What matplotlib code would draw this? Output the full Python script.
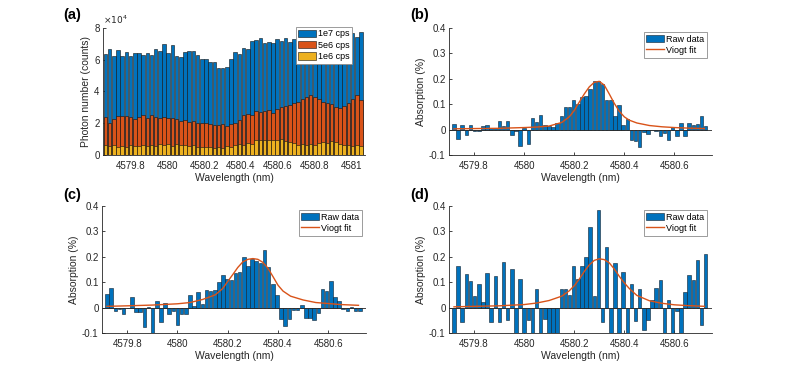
# photon counts and absorption spectra around 4580.3 nm, four panels

import numpy as np
import matplotlib
matplotlib.use('Agg')
import matplotlib.pyplot as plt
from matplotlib.patches import Patch
from matplotlib.lines import Line2D

plt.rcParams['font.family'] = ['Liberation Sans', 'DejaVu Sans']

BLUE = '#0072BD'
ORANGE = '#D95319'
YELLOW = '#EDB120'
AXC = '#262626'

# panel (a): photon counts, in units of 1e4
counts_1e7 = [6.37, 6.66, 6.24, 6.62, 6.24, 6.51, 6.26, 6.40, 6.40, 6.32,
              6.40, 6.28, 6.66, 6.57, 6.97, 6.45, 6.90, 6.26, 6.20, 6.50,
              6.53, 6.55, 6.30, 6.07, 6.03, 5.88, 5.88, 5.46, 5.46, 5.57,
              6.03, 6.50, 6.35, 6.75, 6.65, 7.20, 7.25, 7.40, 7.05, 7.10,
              7.05, 7.30, 7.15, 7.35, 7.10, 7.30, 7.00, 7.35, 6.95, 7.05,
              7.05, 6.85, 7.35, 6.90, 7.00, 7.30, 6.95, 7.05, 7.00, 7.70,
              7.45, 7.75]
counts_5e6 = [2.37, 2.00, 2.27, 2.44, 2.44, 2.44, 2.37, 2.29, 2.42, 2.54,
              2.30, 2.50, 2.37, 2.35, 2.42, 2.35, 2.30, 2.25, 2.14, 2.20,
              2.10, 2.12, 2.04, 2.00, 2.00, 1.98, 1.90, 1.87, 1.93, 1.83,
              1.93, 2.00, 2.20, 2.50, 2.56, 2.50, 2.80, 2.73, 2.80, 2.84,
              2.67, 2.88, 3.05, 3.10, 3.15, 3.30, 3.36, 3.53, 3.68, 3.78,
              3.68, 3.53, 3.36, 3.30, 3.21, 3.00, 2.94, 3.10, 3.26, 3.53,
              3.78, 3.47]
counts_1e6 = [0.65, 0.55, 0.62, 0.50, 0.55, 0.50, 0.60, 0.55, 0.58, 0.60,
              0.55, 0.60, 0.55, 0.68, 0.60, 0.72, 0.55, 0.72, 0.65, 0.60,
              0.58, 0.62, 0.50, 0.52, 0.48, 0.52, 0.46, 0.50, 0.45, 0.55,
              0.48, 0.60, 0.70, 0.65, 0.75, 0.72, 0.92, 0.92, 0.95, 0.92,
              0.95, 0.92, 1.00, 0.88, 0.80, 0.75, 0.65, 0.68, 0.62, 0.70,
              0.65, 0.75, 0.80, 0.78, 0.85, 0.80, 0.72, 0.65, 0.60, 0.55,
              0.65, 0.55]
wl_counts = np.linspace(4579.665, 4581.05, 62)
count_labels = ['1e7 cps', '5e6 cps', '1e6 cps']

# panels (b)-(d): absorption (%)
wl_abs = np.linspace(4579.72, 4580.725, 62)
abs_b = [0.023, -0.037, 0.020, -0.022, 0.020, -0.005, -0.005, 0.015, 0.018, 0.007,
         0.007, 0.032, 0.015, 0.035, -0.022, -0.007, -0.065, 0.005, -0.055, 0.045,
         0.030, 0.058, 0.018, 0.015, 0.010, 0.025, 0.053, 0.090, 0.088, 0.117,
         0.100, 0.128, 0.133, 0.160, 0.190, 0.190, 0.180, 0.115, 0.115, 0.053,
         0.097, 0.020, 0.040, -0.040, -0.045, -0.067, -0.010, -0.018, -0.002, -0.005,
         -0.027, -0.013, -0.042, 0.010, -0.025, 0.027, -0.025, 0.025, 0.020, 0.022,
         0.053, 0.015]
abs_c = [0.055, 0.078, -0.015, -0.005, -0.027, -0.003, 0.040, -0.017, -0.017, -0.078,
         0.003, -0.100, 0.027, -0.057, 0.020, -0.027, -0.012, -0.068, -0.027, -0.027,
         0.048, 0.005, 0.062, 0.016, 0.070, 0.065, 0.070, 0.102, 0.128, 0.113,
         0.108, 0.135, 0.140, 0.200, 0.165, 0.190, 0.185, 0.175, 0.225, 0.160,
         0.093, 0.050, -0.045, -0.072, -0.045, -0.010, -0.008, 0.012, -0.040, -0.042,
         -0.047, -0.022, 0.073, 0.065, 0.105, 0.040, 0.025, -0.005, -0.015, 0.002,
         -0.015, -0.015]
abs_d = [-0.130, 0.162, -0.058, 0.133, 0.104, 0.045, 0.094, 0.022, 0.136, -0.058,
         0.123, -0.056, 0.178, -0.047, 0.152, -0.120, 0.113, -0.110, -0.048, -0.110,
         0.075, -0.120, -0.045, -0.110, -0.120, -0.130, 0.075, 0.075, 0.051, 0.163,
         0.114, 0.165, 0.200, 0.316, 0.045, 0.385, -0.056, 0.238, -0.120, 0.176,
         -0.120, 0.140, -0.100, 0.094, -0.052, 0.072, -0.090, -0.050, 0.028, 0.078,
         0.107, -0.120, 0.030, -0.110, -0.013, -0.110, 0.063, 0.127, 0.110, 0.188,
         -0.067, 0.210]

# fitted profiles
fit_wl = [4579.72, 4579.80, 4579.90, 4580.00, 4580.05, 4580.10, 4580.15, 4580.18,
          4580.20, 4580.22, 4580.24, 4580.26, 4580.28, 4580.30, 4580.32, 4580.34,
          4580.36, 4580.38, 4580.40, 4580.42, 4580.45, 4580.50, 4580.55, 4580.60,
          4580.65, 4580.72]
fit_b = [0.003, 0.004, 0.005, 0.008, 0.010, 0.014, 0.028, 0.050, 0.075, 0.108,
         0.140, 0.168, 0.186, 0.190, 0.175, 0.140, 0.103, 0.072, 0.050, 0.037,
         0.026, 0.016, 0.011, 0.008, 0.006, 0.004]
fit_c = [0.005, 0.007, 0.010, 0.015, 0.020, 0.032, 0.050, 0.075, 0.103, 0.130,
         0.158, 0.180, 0.190, 0.193, 0.190, 0.178, 0.155, 0.122, 0.088, 0.065,
         0.045, 0.030, 0.020, 0.016, 0.012, 0.009]
fit_d = [0.003, 0.005, 0.007, 0.012, 0.018, 0.028, 0.045, 0.066, 0.086, 0.112,
         0.142, 0.168, 0.186, 0.192, 0.189, 0.176, 0.152, 0.123, 0.097, 0.075,
         0.048, 0.027, 0.017, 0.011, 0.008, 0.005]

abs_xticks = [4579.8, 4580.0, 4580.2, 4580.4, 4580.6]
abs_yticks = [-0.1, 0, 0.1, 0.2, 0.3, 0.4]
count_xticks = [4579.8, 4580.0, 4580.2, 4580.4, 4580.6, 4580.8, 4581.0]
count_yticks = [0, 2, 4, 6, 8]


def style_axes(ax):
    for side in ('top', 'right'):
        ax.spines[side].set_visible(False)
    for side in ('left', 'bottom'):
        ax.spines[side].set_color(AXC)
        ax.spines[side].set_linewidth(0.6)
    ax.tick_params(direction='in', length=2.5, width=0.6, colors=AXC,
                   labelsize=7, top=False, right=False)
    ax.tick_params(axis='x', pad=4)
    ax.tick_params(axis='y', pad=2.5)


def fmt(v):
    return f'{v:g}'


def plot_abs(ax, values, fit, legend_anchor):
    step = wl_abs[1] - wl_abs[0]
    ax.bar(wl_abs, values, width=0.85 * step, color=BLUE, edgecolor='#10202e',
           linewidth=0.4, zorder=2)
    ax.axhline(0, color=AXC, linewidth=0.6, zorder=3)
    ax.plot(fit_wl, fit, color=ORANGE, linewidth=1.0, zorder=4)
    ax.set_xlim(4579.70, 4580.75)
    ax.set_ylim(-0.1, 0.4)
    ax.set_xticks(abs_xticks)
    ax.set_xticklabels([fmt(v) for v in abs_xticks])
    ax.set_yticks(abs_yticks)
    ax.set_yticklabels([fmt(v) for v in abs_yticks])
    ax.set_xlabel('Wavelength (nm)', fontsize=7.5, color=AXC, labelpad=1.5)
    ax.set_ylabel('Absorption (%)', fontsize=7.5, color=AXC, labelpad=2)
    style_axes(ax)
    handles = [Patch(facecolor=BLUE, edgecolor='#10202e', linewidth=0.4),
               Line2D([0], [0], color=ORANGE, linewidth=1.0)]
    leg = ax.legend(handles, ['Raw data', 'Viogt fit'], loc='upper right',
                    bbox_to_anchor=legend_anchor, borderaxespad=0, fontsize=6.5,
                    frameon=True, fancybox=False, framealpha=1, borderpad=0.3,
                    labelspacing=0.25, handlelength=2.0, handletextpad=0.2,
                    handleheight=0.9)
    leg.get_frame().set_edgecolor('#8c8c8c')
    leg.get_frame().set_linewidth(0.6)


fig = plt.figure(figsize=(7.87, 3.74), dpi=100)

ax_a = fig.add_axes([0.1309, 0.5856, 0.3329, 0.3396])
ax_b = fig.add_axes([0.5705, 0.5856, 0.3342, 0.3396])
ax_c = fig.add_axes([0.1296, 0.1096, 0.3355, 0.3396])
ax_d = fig.add_axes([0.5705, 0.1096, 0.3342, 0.3396])

# (a) overlapping bars, brightest source drawn first
step_a = wl_counts[1] - wl_counts[0]
for vals, col in zip([counts_1e7, counts_5e6, counts_1e6], [BLUE, ORANGE, YELLOW]):
    ax_a.bar(wl_counts, vals, width=0.85 * step_a, color=col, edgecolor='#111111',
             linewidth=0.4, zorder=2)
ax_a.set_xlim(4579.652, 4581.072)
ax_a.set_ylim(0, 8)
ax_a.set_xticks(count_xticks)
ax_a.set_xticklabels([fmt(v) for v in count_xticks])
ax_a.set_yticks(count_yticks)
ax_a.set_yticklabels([fmt(v) for v in count_yticks])
ax_a.set_xlabel('Wavelength (nm)', fontsize=7.5, color=AXC, labelpad=1.5)
ax_a.set_ylabel('Photon number (counts)', fontsize=7.5, color=AXC, labelpad=2)
style_axes(ax_a)
ax_a.text(0.0, 1.015, r'$\times10^4$', transform=ax_a.transAxes, fontsize=6.5,
          color=AXC, ha='left', va='bottom')
handles_a = [Patch(facecolor=c, edgecolor='#111111', linewidth=0.4)
             for c in (BLUE, ORANGE, YELLOW)]
leg_a = ax_a.legend(handles_a, count_labels, loc='upper right',
                    bbox_to_anchor=(0.952, 1.01), borderaxespad=0, fontsize=6.5,
                    frameon=True, fancybox=False, framealpha=1, borderpad=0.3,
                    labelspacing=0.25, handlelength=2.0, handletextpad=0.2,
                    handleheight=0.9)
leg_a.get_frame().set_edgecolor('#8c8c8c')
leg_a.get_frame().set_linewidth(0.6)

plot_abs(ax_b, abs_b, fit_b, (0.981, 0.969))
plot_abs(ax_c, abs_c, fit_c, (0.985, 0.969))
plot_abs(ax_d, abs_d, fit_d, (0.981, 0.969))

# panel letters
for x, y, lab in [(63, 15, '(a)'), (410, 15, '(b)'), (63, 195, '(c)'), (410, 195, '(d)')]:
    fig.text(x / 787, 1 - y / 374, lab, fontsize=10.5, fontweight='bold',
             ha='left', va='center', color='black')

fig.savefig('out.png', dpi=100)
